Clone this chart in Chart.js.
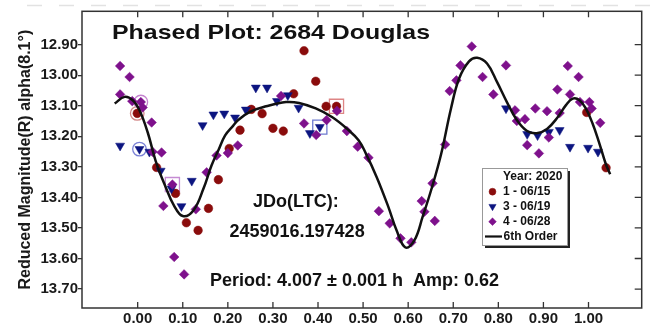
<!DOCTYPE html>
<html>
<head>
<script src="https://cdn.jsdelivr.net/npm/chart.js@4.4.0/dist/chart.umd.min.js"></script>
<style>
  body { margin: 0; background: #fff; }
</style>
</head>
<body>
<canvas id="grafico" width="653" height="328"></canvas>
<script>
// tick labels
const xTicks = [0.00, 0.10, 0.20, 0.30, 0.40, 0.50, 0.60, 0.70, 0.80, 0.90, 1.00];
const yTicks = [12.90, 13.00, 13.10, 13.20, 13.30, 13.40, 13.50, 13.60, 13.70];

// 1 - 06/15
const n1Phase = [-0.001, 0.042, 0.084, 0.108, 0.134, 0.157, 0.179, 0.203, 0.227, 0.252, 0.276, 0.300, 0.323, 0.346, 0.369, 0.395, 0.418, 0.441, 0.996, 1.039];
const n1Mag   = [13.125, 13.302, 13.387, 13.483, 13.508, 13.436, 13.342, 13.240, 13.180, 13.112, 13.126, 13.174, 13.183, 13.061, 12.920, 13.020, 13.102, 13.102, 13.122, 13.303];

// 3 - 06/19
const n3Phase = [-0.039, 0.004, 0.026, 0.051, 0.075, 0.097, 0.120, 0.144, 0.168, 0.192, 0.216, 0.240, 0.262, 0.287, 0.309, 0.333, 0.357, 0.382, 0.404, 0.817, 0.864, 0.887, 0.912, 0.936, 0.959, 0.999, 1.021];
const n3Mag   = [13.231, 13.242, 13.251, 13.313, 13.371, 13.429, 13.346, 13.164, 13.129, 13.126, 13.139, 13.113, 13.041, 13.041, 13.085, 13.066, 13.107, 13.190, 13.170, 13.109, 13.193, 13.197, 13.186, 13.180, 13.235, 13.238, 13.251];

// 4 - 06/28
const n4Phase = [-0.039, -0.018, -0.039, -0.012, 0.007, 0.011, 0.031, 0.033, 0.053, 0.057, 0.077, 0.081, 0.103, 0.129, 0.153, 0.175, 0.200, 0.222, 0.318, 0.369, 0.396, 0.419, 0.442, 0.464, 0.488, 0.512, 0.535, 0.559, 0.583, 0.607, 0.630, 0.636, 0.654, 0.659, 0.682, 0.692, 0.707, 0.716, 0.741, 0.765, 0.789, 0.817, 0.837, 0.841, 0.859, 0.864, 0.882, 0.890, 0.908, 0.912, 0.931, 0.936, 0.954, 0.959, 0.978, 0.981, 1.002, 1.007, 1.026];
const n4Mag   = [12.970, 13.006, 13.063, 13.085, 13.088, 13.106, 13.155, 13.251, 13.253, 13.428, 13.358, 13.595, 13.652, 13.439, 13.318, 13.263, 13.255, 13.230, 13.068, 13.158, 13.196, 13.147, 13.117, 13.183, 13.234, 13.270, 13.445, 13.485, 13.534, 13.547, 13.412, 13.447, 13.354, 13.477, 13.227, 13.052, 13.017, 12.968, 12.906, 13.006, 13.063, 12.968, 13.115, 13.150, 13.144, 13.229, 13.109, 13.256, 13.118, 13.204, 13.047, 13.124, 12.970, 13.063, 13.006, 13.088, 13.088, 13.109, 13.156];

// 6th order fit
const fitPhase = [-0.051, -0.029, -0.011, 0.004, 0.022, 0.040, 0.062, 0.080, 0.100, 0.124, 0.146, 0.164, 0.179, 0.194, 0.212, 0.223, 0.249, 0.285, 0.329, 0.358, 0.395, 0.431, 0.464, 0.490, 0.506, 0.530, 0.556, 0.574, 0.594, 0.614, 0.632, 0.653, 0.673, 0.695, 0.713, 0.735, 0.753, 0.775, 0.797, 0.819, 0.841, 0.863, 0.885, 0.908, 0.932, 0.950, 0.965, 0.980, 0.994, 1.009, 1.023, 1.038, 1.048];
const fitMag   = [13.093, 13.071, 13.082, 13.115, 13.186, 13.281, 13.366, 13.425, 13.461, 13.442, 13.371, 13.295, 13.246, 13.197, 13.165, 13.147, 13.120, 13.102, 13.088, 13.091, 13.109, 13.137, 13.175, 13.213, 13.256, 13.333, 13.431, 13.507, 13.564, 13.540, 13.464, 13.366, 13.259, 13.109, 13.011, 12.955, 12.943, 12.962, 13.022, 13.088, 13.147, 13.182, 13.190, 13.176, 13.137, 13.098, 13.077, 13.082, 13.109, 13.158, 13.218, 13.289, 13.324];

// first points of each night marked with circle / square
const ringPhase  = [-0.001, 0.004, 0.007];
const ringMag    = [13.125, 13.242, 13.088];
const boxPhase   = [0.077, 0.404, 0.441];
const boxMag     = [13.358, 13.170, 13.102];

const RED = '#8a0c0c', BLUE = '#0c1580', PURPLE = '#7e118c';
const FONT = '"Liberation Sans", Arial, sans-serif';

function pts(xs, ys) { return xs.map((x, i) => ({x: x, y: ys[i]})); }

const frame = {
  id: 'frame',
  afterDatasetsDraw(chart) {
    const {ctx, chartArea: a, scales} = chart;
    ctx.save();
    ctx.strokeStyle = '#333';
    ctx.lineWidth = 1.3;
    ctx.beginPath();
    xTicks.forEach(v => {
      const px = scales.x.getPixelForValue(v);
      ctx.moveTo(px, a.top); ctx.lineTo(px, a.top + 6);
      ctx.moveTo(px, a.bottom); ctx.lineTo(px, a.bottom - 6);
    });
    yTicks.forEach(v => {
      const py = scales.y.getPixelForValue(v);
      ctx.moveTo(a.right, py); ctx.lineTo(a.right - 7, py);
    });
    ctx.stroke();
    ctx.lineWidth = 1.5;
    ctx.strokeRect(a.left, a.top, a.right - a.left, a.bottom - a.top);
    // faint dashed line at very top
    ctx.strokeStyle = '#e2e2e2';
    ctx.lineWidth = 1.5;
    ctx.setLineDash([15, 17]);
    ctx.beginPath();
    ctx.moveTo(27, 5.5); ctx.lineTo(653, 5.5);
    ctx.stroke();
    ctx.restore();
  }
};

const texts = {
  id: 'texts',
  afterDatasetsDraw(chart) {
    const ctx = chart.ctx;
    ctx.save();
    ctx.fillStyle = '#111';
    ctx.textBaseline = 'alphabetic';
    ctx.textAlign = 'left';
    ctx.font = 'bold 21px ' + FONT;
    const t = 'Phased Plot: 2684 Douglas';
    const w = ctx.measureText(t).width;
    ctx.save();
    ctx.translate(112, 38.5);
    ctx.scale(318 / w, 1);
    ctx.fillText(t, 0, 0);
    ctx.restore();
    ctx.font = 'bold 18px ' + FONT;
    ctx.fillText('JDo(LTC):', 253, 206.7);
    ctx.fillText('2459016.197428', 229.5, 237.3);
    ctx.fillText('Period: 4.007 \u00b1 0.001 h  Amp: 0.62', 210, 286);
    ctx.restore();
  }
};

const legendBox = {
  id: 'legendBox',
  afterDraw(chart) {
    const ctx = chart.ctx;
    const L = 482, T = 168, W = 85, H = 77;
    ctx.save();
    ctx.fillStyle = '#222';
    ctx.fillRect(L + 3, T + 3, W, H);
    ctx.fillStyle = '#fff';
    ctx.fillRect(L, T, W, H);
    ctx.strokeStyle = '#999';
    ctx.lineWidth = 1;
    ctx.strokeRect(L + 0.5, T + 0.5, W, H);
    ctx.fillStyle = '#111';
    ctx.font = 'bold 12px ' + FONT;
    ctx.textBaseline = 'middle';
    ctx.fillText('Year: 2020', 503, 176.5);
    const ds = chart.data.datasets;
    const rows = [[1, 191.7], [2, 206.5], [3, 221.7]];
    rows.forEach(([i, y]) => {
      const d = ds[i];
      ctx.fillStyle = d.backgroundColor;
      ctx.strokeStyle = d.borderColor;
      ctx.lineWidth = 0.5;
      Chart.helpers.drawPoint(ctx, {pointStyle: d.pointStyle, rotation: d.rotation || 0,
        borderWidth: 0.5, radius: d.pointRadius * 0.8}, 492.5, y);
      ctx.fillStyle = '#111';
      ctx.fillText(d.label, 503, y);
    });
    ctx.strokeStyle = '#111';
    ctx.lineWidth = 2.2;
    ctx.beginPath();
    ctx.moveTo(485, 236.5); ctx.lineTo(502, 236.5);
    ctx.stroke();
    ctx.fillText(ds[0].label, 503.5, 236.5);
    ctx.restore();
  }
};

new Chart(document.getElementById('grafico').getContext('2d'), {
  type: 'scatter',
  data: {
    datasets: [
      {label: '6th Order', data: pts(fitPhase, fitMag), showLine: true, pointRadius: 0,
       borderColor: '#111', borderWidth: 2.5, tension: 0.4, fill: false, order: 0},
      {label: '1 - 06/15', data: pts(n1Phase, n1Mag), pointStyle: 'circle', pointRadius: 4.3,
       backgroundColor: RED, borderColor: RED, borderWidth: 0.5, order: 3},
      {label: '3 - 06/19', data: pts(n3Phase, n3Mag), pointStyle: 'triangle', rotation: 180, pointRadius: 5.2,
       backgroundColor: BLUE, borderColor: BLUE, borderWidth: 0.5, order: 2},
      {label: '4 - 06/28', data: pts(n4Phase, n4Mag), pointStyle: 'rectRot', pointRadius: 4.8,
       backgroundColor: PURPLE, borderColor: PURPLE, borderWidth: 0.5, order: 1},
      {label: 'rings', data: pts(ringPhase, ringMag), pointStyle: 'circle', pointRadius: 6.8,
       backgroundColor: 'rgba(0,0,0,0)', borderColor: ['#d38a8a', '#7b82d6', '#c583cf'], borderWidth: 1.3, order: 4},
      {label: 'boxes', data: pts(boxPhase, boxMag), pointStyle: 'rect', pointRadius: 10,
       backgroundColor: 'rgba(0,0,0,0)', borderColor: ['#c58bd3', '#6d7ad0', '#de8585'], borderWidth: 1.3, order: 4}
    ]
  },
  options: {
    responsive: false,
    animation: false,
    layout: {padding: {top: 11, right: 5, left: 0, bottom: 0}},
    plugins: {legend: {display: false}, tooltip: {enabled: false}},
    scales: {
      x: {
        type: 'linear', min: -0.1235, max: 1.118,
        afterBuildTicks: s => { s.ticks = xTicks.map(v => ({value: v})); },
        afterFit: s => { s.height = 20; },
        ticks: {callback: v => v.toFixed(2), font: {family: FONT, size: 15, weight: 'bold'}, color: '#1a1a1a', padding: 2, maxRotation: 0},
        grid: {drawOnChartArea: false, drawTicks: false},
        border: {display: false}
      },
      y: {
        reverse: true, min: 12.791, max: 13.762,
        afterBuildTicks: s => { s.ticks = yTicks.map(v => ({value: v})); },
        afterFit: s => { s.width = 82; },
        ticks: {callback: v => v.toFixed(2), font: {family: FONT, size: 15, weight: 'bold'}, color: '#1a1a1a', padding: 0},
        grid: {drawOnChartArea: false, tickLength: 4, color: '#333', lineWidth: 1.3},
        border: {display: false},
        title: {display: true, text: 'Reduced Magnitude(R) alpha(8.1\u00b0)', color: '#1a1a1a',
                font: {family: FONT, size: 16, weight: 'bold'}, padding: {top: 16, bottom: 0}}
      }
    }
  },
  plugins: [frame, texts, legendBox]
});
</script>
</body>
</html>
